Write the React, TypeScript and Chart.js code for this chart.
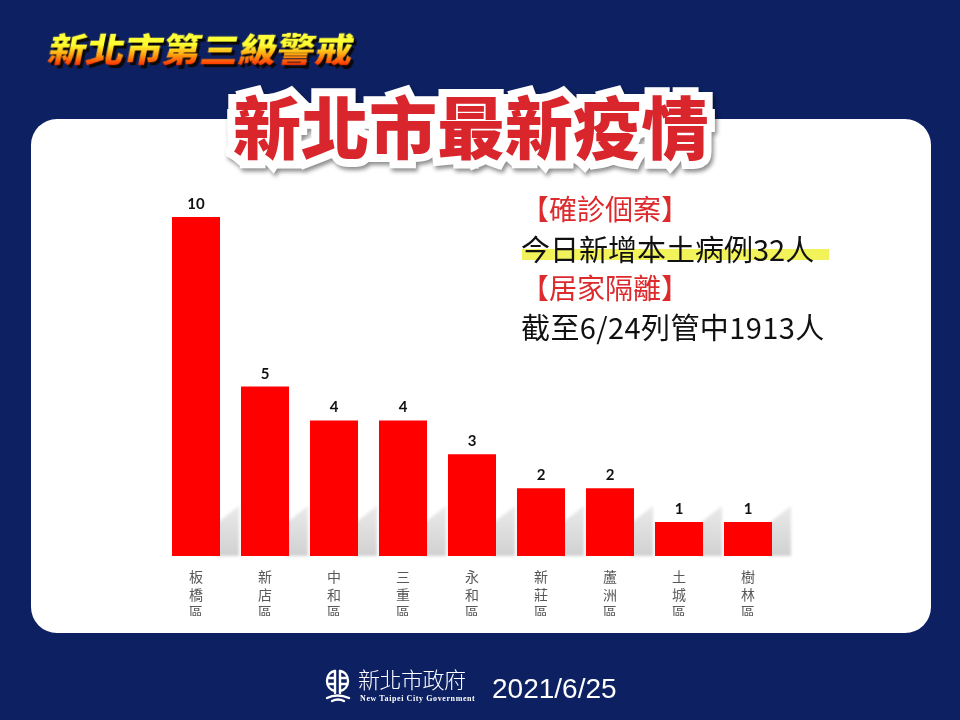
import React, { useEffect, useRef } from 'react';
import { Chart, registerables } from 'chart.js';

Chart.register(...registerables);

const districtNames = ['板橋區', '新店區', '中和區', '三重區', '永和區', '新莊區', '蘆洲區', '土城區', '樹林區'];
const caseCounts = [10, 5, 4, 4, 3, 2, 2, 1, 1];
const yMin = 0;
const yMax = 10;

const topTitle = '新北市第三級警戒';
const mainTitle = '新北市最新疫情';
const infoHead1 = '【確診個案】';
const infoLine1 = '今日新增本土病例32人';
const infoHead2 = '【居家隔離】';
const infoLine2 = '截至6/24列管中1913人';
const orgName = '新北市政府';
const orgNameEn = 'New Taipei City Government';
const dateText = '2021/6/25';

const CJK = '"Noto Sans CJK TC", "Noto Sans CJK SC", sans-serif';

const shadowPlugin = {
  id: 'barShadow',
  beforeDatasetsDraw(chart: any) {
    const ctx = chart.ctx;
    const meta = chart.getDatasetMeta(0);
    const base = chart.scales.y.getPixelForValue(0);
    ctx.save();
    ctx.filter = 'blur(1.5px)';
    meta.data.forEach((bar: any, i: number) => {
      const p = bar.getProps(['x', 'y', 'width'], true);
      const xR = p.x + p.width / 2;
      const next = meta.data[i + 1];
      let gap = 21;
      if (next) {
        const n = next.getProps(['x', 'width'], true);
        gap = n.x - n.width / 2 - xR;
      }
      const t1 = 32;
      const t2 = 50;
      const g = ctx.createLinearGradient(0, base, 0, base - t2);
      g.addColorStop(0, 'rgba(150,150,150,0.45)');
      g.addColorStop(1, 'rgba(170,170,170,0.25)');
      ctx.fillStyle = g;
      ctx.beginPath();
      ctx.moveTo(xR - 4, base);
      ctx.lineTo(xR - 4, base - t1);
      ctx.lineTo(xR + gap - 2, base - t2);
      ctx.lineTo(xR + gap - 2, base);
      ctx.closePath();
      ctx.fill();
    });
    ctx.restore();
  },
};

const valueLabelPlugin = {
  id: 'valueLabels',
  afterDatasetsDraw(chart: any) {
    const ctx = chart.ctx;
    const meta = chart.getDatasetMeta(0);
    const values = chart.data.datasets[0].data;
    ctx.save();
    ctx.font = 'bold 15px Lato, "Open Sans", sans-serif';
    ctx.fillStyle = '#111111';
    ctx.textAlign = 'center';
    ctx.textBaseline = 'alphabetic';
    meta.data.forEach((bar: any, i: number) => {
      const p = bar.getProps(['x', 'y'], true);
      ctx.fillText(String(values[i]), p.x, p.y - 8);
    });
    ctx.restore();
  },
};

function BarChart() {
  const ref = useRef<HTMLCanvasElement | null>(null);
  useEffect(() => {
    if (!ref.current) return;
    const chart = new Chart(ref.current, {
      type: 'bar',
      data: {
        labels: districtNames.map((s) => s.split('')),
        datasets: [
          {
            data: caseCounts,
            backgroundColor: '#ff0000',
            borderWidth: 0,
            barPercentage: 0.696,
            categoryPercentage: 1,
          },
        ],
      },
      options: {
        responsive: false,
        devicePixelRatio: 1,
        animation: false,
        layout: { padding: { left: 161.5, right: 177.5, top: 217, bottom: 104 } },
        plugins: { legend: { display: false }, tooltip: { enabled: false }, title: { display: false } },
        scales: {
          y: { display: false, min: yMin, max: yMax },
          x: {
            grid: { display: false, drawTicks: false },
            border: { display: false },
            ticks: {
              color: '#595959',
              padding: 12,
              font: { family: CJK, size: 14, lineHeight: 1.25 },
              maxRotation: 0,
              autoSkip: false,
            },
            afterFit: (scale: any) => {
              scale.height = 60;
            },
          },
        },
      },
      plugins: [shadowPlugin, valueLabelPlugin],
    } as any);
    return () => chart.destroy();
  }, []);
  return (
    <canvas
      ref={ref}
      width={960}
      height={720}
      style={{ position: 'absolute', left: 0, top: 0, width: 960, height: 720 }}
    />
  );
}

function Logo() {
  return (
    <svg width={28} height={38} viewBox="0 0 28 38" style={{ position: 'absolute', left: 324, top: 667 }}>
      <g fill="none" stroke="#ffffff" strokeWidth={2.4} strokeLinecap="round">
        <path d="M11 4 C5 5 3 10 3 14 C3 19 6 23 11 24" />
        <path d="M16 4 C22 5 24 10 24 14 C24 19 21 23 16 24" />
        <path d="M11 4 L11 26" />
        <path d="M16 4 L16 26" />
        <path d="M5 11 L10 11" />
        <path d="M5 17 L10 17" />
        <path d="M17 11 L22 11" />
        <path d="M17 17 L22 17" />
        <path d="M3 31 Q13 26 25 31" />
        <path d="M8 34 Q14 31 20 34" />
      </g>
    </svg>
  );
}

export default function App() {
  const red = '#dc2a2d';
  return (
    <div
      style={{
        position: 'fixed',
        left: 0,
        top: 0,
        width: 960,
        height: 720,
        overflow: 'hidden',
        background: '#0d2162',
        fontFamily: CJK,
      }}
    >
      {/* white panel */}
      <div
        style={{
          position: 'absolute',
          left: 31,
          top: 119,
          width: 900,
          height: 514,
          background: '#ffffff',
          borderRadius: 26,
        }}
      />

      <BarChart />

      {/* top-left yellow title */}
      <div
        style={{
          position: 'absolute',
          left: 46,
          top: 31,
          transformOrigin: 'left bottom',
          transform: 'scaleX(1.12) skewX(-10deg)',
          whiteSpace: 'nowrap',
        }}
      >
        <div
          style={{
            position: 'absolute',
            left: 3,
            top: 3,
            fontSize: 34,
            lineHeight: '34px',
            fontWeight: 900,
            color: 'rgba(10,5,0,0.9)',
          }}
        >
          {topTitle}
        </div>
        <div
          style={{
            position: 'relative',
            fontSize: 34,
            lineHeight: '34px',
            fontWeight: 900,
            color: 'transparent',
            backgroundImage: 'linear-gradient(180deg, #ffff40 0%, #ffff30 40%, #ffa010 70%, #ff3000 100%)',
            WebkitBackgroundClip: 'text',
            backgroundClip: 'text',
          }}
        >
          {topTitle}
        </div>
      </div>

      {/* main red title */}
      <div style={{ position: 'absolute', left: 233, top: 91, whiteSpace: 'nowrap' }}>
        <div
          style={{
            position: 'absolute',
            left: 0,
            top: 0,
            fontSize: 68,
            lineHeight: '68px',
            fontWeight: 900,
            color: '#ffffff',
            WebkitTextStroke: '16px #ffffff',
            filter: 'drop-shadow(2px 3px 2px rgba(0,0,0,0.45))',
          }}
        >
          {mainTitle}
        </div>
        <div
          style={{
            position: 'relative',
            fontSize: 68,
            lineHeight: '68px',
            fontWeight: 900,
            color: '#d8262c',
          }}
        >
          {mainTitle}
        </div>
      </div>

      {/* info text */}
      <div style={{ position: 'absolute', left: 521, top: 194, fontSize: 28, lineHeight: '28px', color: red, whiteSpace: 'nowrap' }}>
        {infoHead1}
      </div>
      <div
        style={{
          position: 'absolute',
          left: 522,
          top: 249,
          width: 307,
          height: 11,
          background: '#f2f25a',
        }}
      />
      <div style={{ position: 'absolute', left: 521, top: 234, fontSize: 29, lineHeight: '29px', color: '#111111', whiteSpace: 'nowrap' }}>
        {infoLine1}
      </div>
      <div style={{ position: 'absolute', left: 521, top: 273, fontSize: 28, lineHeight: '28px', color: red, whiteSpace: 'nowrap' }}>
        {infoHead2}
      </div>
      <div
        style={{
          position: 'absolute',
          left: 521,
          top: 312,
          fontSize: 29,
          lineHeight: '29px',
          color: '#111111',
          letterSpacing: 0.4,
          whiteSpace: 'nowrap',
        }}
      >
        {infoLine2}
      </div>

      {/* footer */}
      <Logo />
      <div
        style={{
          position: 'absolute',
          left: 358,
          top: 667,
          fontSize: 22,
          lineHeight: '22px',
          fontWeight: 300,
          color: '#ffffff',
          letterSpacing: -0.5,
          whiteSpace: 'nowrap',
        }}
      >
        {orgName}
      </div>
      <div
        style={{
          position: 'absolute',
          left: 360,
          top: 695,
          fontSize: 8,
          lineHeight: '8px',
          fontWeight: 700,
          fontFamily: '"Liberation Serif", "DejaVu Serif", serif',
          color: '#ffffff',
          letterSpacing: 0.6,
          whiteSpace: 'nowrap',
        }}
      >
        {orgNameEn}
      </div>
      <div
        style={{
          position: 'absolute',
          left: 492,
          top: 675,
          fontSize: 28,
          lineHeight: '28px',
          fontFamily: '"Liberation Sans", Arial, sans-serif',
          color: '#ffffff',
          whiteSpace: 'nowrap',
        }}
      >
        {dateText}
      </div>
    </div>
  );
}
